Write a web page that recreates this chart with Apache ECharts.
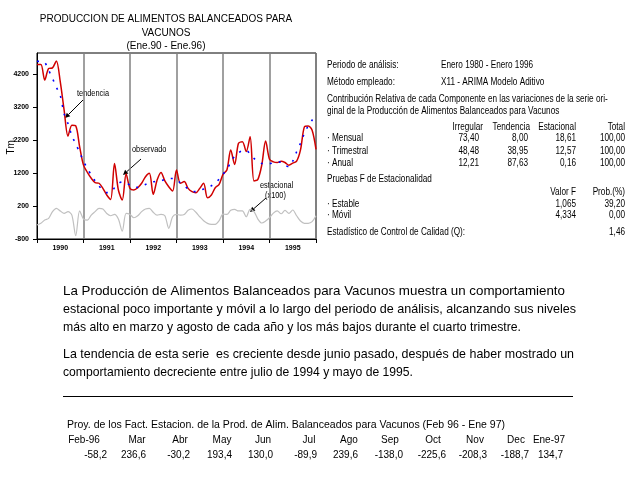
<!DOCTYPE html>
<html><head><meta charset="utf-8">
<script src="https://cdn.jsdelivr.net/npm/echarts@6/dist/echarts.min.js"></script>
<style>html,body{margin:0;padding:0;background:#fff}#c{width:640px;height:480px}</style>
</head><body><div id="c"></div>
<script>
// ---------------- DATA ----------------
const years = ['1990','1991','1992','1993','1994','1995'];
const yTickValues = [-800, 200, 1200, 2200, 3200, 4200];
// Monthly series Ene.90 - Ene.96 (73 months)
const observado = [4490,4490,4020,4370,4390,4600,3970,3110,2320,2650,2630,2000,1440,1220,1040,910,890,735,535,400,1490,685,380,1170,735,685,755,890,1090,1190,555,990,1220,960,785,655,1290,890,940,735,635,605,735,890,450,535,755,855,1160,1290,1900,1460,2100,2150,1850,2300,960,1010,1440,2170,1620,1540,1520,1560,1520,1440,1500,1560,1900,2600,2630,2500,1920];
const tendencia = [4590,4580,4550,4320,4070,3800,3550,3000,2700,2330,2080,1830,1560,1340,1140,960,805,685,605,615,755,885,935,905,835,785,765,805,855,905,935,955,965,1005,1035,1035,1010,900,820,715,655,635,665,715,765,815,885,1020,1160,1320,1520,1715,1815,1875,1885,1775,1645,1545,1490,1490,1490,1505,1525,1535,1440,1390,1560,1845,2100,2400,2635,2805,2905];
const estacional = [-375,-325,-225,-175,30,130,50,-25,30,-75,-700,50,-195,-225,-75,30,130,110,-25,-95,-55,-195,-560,-25,-55,-155,-95,30,110,130,10,-75,-55,-95,-475,-125,-55,-75,-55,70,110,10,-125,-245,-325,-355,-355,-245,-45,-55,70,100,50,50,-125,100,30,-195,-315,-255,-155,-15,50,-35,70,-25,80,-95,-255,-325,-325,-275,-95];

const infoLabels = ['Periodo de análisis:', 'Método empleado:'];
const infoValues = ['Enero 1980 - Enero 1996', 'X11 - ARIMA Modelo Aditivo'];
const contribText = ['Contribución Relativa de cada Componente en las variaciones de la serie ori-',
                     'ginal de la Producción de Alimentos Balanceados para Vacunos'];
const contribHeaders = ['Irregular', 'Tendencia', 'Estacional', 'Total'];
const contribRows = ['· Mensual', '· Trimestral', '· Anual'];
const contribIrregular = [73.40, 48.48, 12.21];
const contribTendencia = [8.00, 38.95, 87.63];
const contribEstacional = [18.61, 12.57, 0.16];
const contribTotal = [100.00, 100.00, 100.00];
const fTitle = 'Pruebas F de Estacionalidad';
const fHeaders = ['Valor F', 'Prob.(%)'];
const fRows = ['· Estable', '· Móvil'];
const fValor = ['1,065', '4,334'];
const fProb = [39.20, 0.00];
const qLabel = 'Estadístico de Control de Calidad (Q):';
const qValue = 1.46;

const paragraph = [
  'La Producción de Alimentos Balanceados para Vacunos muestra un comportamiento',
  'estacional poco importante y móvil a lo largo del periodo de análisis, alcanzando sus niveles',
  'más alto en marzo y agosto de cada año y los más bajos durante el cuarto trimestre.',
  '',
  'La tendencia de esta serie  es creciente desde junio pasado, después de haber mostrado un',
  'comportamiento decreciente entre julio de 1994 y mayo de 1995.'
];
const projTitle = 'Proy. de los Fact. Estacion. de la Prod. de Alim. Balanceados para Vacunos (Feb 96 - Ene 97)';
const projMonths = ['Feb-96','Mar','Abr','May','Jun','Jul','Ago','Sep','Oct','Nov','Dec','Ene-97'];
const projValues = [-58.2, 236.6, -30.2, 193.4, 130.0, -89.9, 239.6, -138.0, -225.6, -208.3, -188.7, 134.7];

// ---------------- HELPERS ----------------
function fmt(v, d){ return v.toFixed(d).replace('.', ','); }
const measureCtx = document.createElement('canvas').getContext('2d');
function fontAvailable(f){
  const s = 'abcdefghijklmnopqrstuvwxyzABCDEFGHIJ0123456789';
  measureCtx.font = '40px monospace'; const a = measureCtx.measureText(s).width;
  measureCtx.font = '40px "' + f + '", monospace'; const b = measureCtx.measureText(s).width;
  return Math.abs(a - b) > 0.5;
}
const NARROW = fontAvailable('Liberation Sans Narrow');
const SANS = '"Liberation Sans", Arial, Helvetica, sans-serif';
function txt(x, y, text, size, align, opts){
  opts = opts || {};
  const narrow = opts.narrow;
  const font = (opts.bold ? 'bold ' : '') + size + 'px ' + ((narrow && NARROW) ? '"Liberation Sans Narrow"' : SANS);
  const el = { type: 'text', x: x, y: y, silent: true,
    style: { text: text, textAlign: align || 'left', textVerticalAlign: 'middle', fill: '#000', font: font } };
  let sx = 1;
  if (narrow && !NARROW) sx = 0.82;
  if (opts.width) { measureCtx.font = font; sx = opts.width / measureCtx.measureText(text).width; }
  if (sx !== 1) el.scaleX = sx;
  if (opts.rotation) el.rotation = opts.rotation;
  return el;
}
function arrow(x1, y1, x2, y2){
  const a = Math.atan2(y2 - y1, x2 - x1), L = 5, W = 2.5;
  const bx = x2 - L * Math.cos(a), by = y2 - L * Math.sin(a);
  const px = -Math.sin(a) * W, py = Math.cos(a) * W;
  return [
    { type: 'line', silent: true, shape: { x1: x1, y1: y1, x2: bx, y2: by }, style: { stroke: '#000', lineWidth: 1 } },
    { type: 'polygon', silent: true, shape: { points: [[x2, y2], [bx + px, by + py], [bx - px, by - py]] }, style: { fill: '#000' } }
  ];
}
const idx = (arr) => arr.map((v, i) => [i, v]);

// ---------------- GRAPHICS (text & annotations) ----------------
const g = [];
g.push(txt(166, 19, 'PRODUCCION DE ALIMENTOS BALANCEADOS PARA', 10, 'center'));
g.push(txt(166, 33, 'VACUNOS', 10, 'center'));
g.push(txt(166, 46, '(Ene.90 - Ene.96)', 10, 'center'));
g.push(txt(11, 146, 'Tm.', 10, 'center', { rotation: Math.PI / 2 }));
// annotations
g.push(txt(77, 94, 'tendencia', 9, 'left', { narrow: true }));
g.push(...arrow(83, 100, 65, 118));
g.push(txt(132, 150, 'observado', 9, 'left', { narrow: true }));
g.push(...arrow(141, 159, 123, 175));
g.push(txt(260, 186, 'estacional', 9, 'left', { narrow: true }));
g.push(txt(265, 196, '(x100)', 9, 'left', { narrow: true }));
g.push(...arrow(266, 198, 250, 212));

// right panel
const RX = 327, VX = 441;
const colR = [483, 530, 576, 625];
infoLabels.forEach((t, i) => { g.push(txt(RX, 65 + i * 17.5, t, 10, 'left', { narrow: true })); g.push(txt(VX, 65 + i * 17.5, infoValues[i], 10, 'left', { narrow: true })); });
contribText.forEach((t, i) => g.push(txt(RX, 99 + i * 12, t, 10, 'left', { narrow: true })));
contribHeaders.forEach((t, i) => g.push(txt(colR[i], 127.5, t, 10, 'right', { narrow: true })));
contribRows.forEach((t, i) => {
  const y = 138 + i * 12.8;
  g.push(txt(RX, y, t, 10, 'left', { narrow: true }));
  g.push(txt(colR[0] - 4, y, fmt(contribIrregular[i], 2), 10, 'right', { narrow: true }));
  g.push(txt(colR[1] - 2, y, fmt(contribTendencia[i], 2), 10, 'right', { narrow: true }));
  g.push(txt(colR[2], y, fmt(contribEstacional[i], 2), 10, 'right', { narrow: true }));
  g.push(txt(colR[3], y, fmt(contribTotal[i], 2), 10, 'right', { narrow: true }));
});
g.push(txt(RX, 179, fTitle, 10, 'left', { narrow: true }));
g.push(txt(576, 192, fHeaders[0], 10, 'right', { narrow: true }));
g.push(txt(625, 192, fHeaders[1], 10, 'right', { narrow: true }));
fRows.forEach((t, i) => {
  const y = 204 + i * 11.5;
  g.push(txt(RX, y, t, 10, 'left', { narrow: true }));
  g.push(txt(576, y, fValor[i], 10, 'right', { narrow: true }));
  g.push(txt(625, y, fmt(fProb[i], 2), 10, 'right', { narrow: true }));
});
g.push(txt(RX, 232, qLabel, 10, 'left', { narrow: true }));
g.push(txt(625, 232, fmt(qValue, 2), 10, 'right', { narrow: true }));

// paragraph (line widths matched to the reference layout)
const paraY = [291, 309, 327, 345, 354, 372];
const paraW = [502, 513, 458, 0, 511, 350];
paragraph.forEach((t, i) => { if (t) g.push(txt(63, paraY[i], t, 13.3, 'left', { width: paraW[i] })); });
g.push({ type: 'line', silent: true, shape: { x1: 63, y1: 396.5, x2: 573, y2: 396.5 }, style: { stroke: '#000', lineWidth: 1 } });

// projection table
const monthCX = [84, 137, 180, 222, 263, 309, 349, 390, 433, 475, 516, 549];
const valRX = [107, 146, 190, 232, 273, 317, 358, 403, 446, 487, 529, 563];
g.push(txt(67, 425, projTitle, 10, 'left', { width: 438 }));
projMonths.forEach((m, i) => g.push(txt(monthCX[i], 440, m, 10, 'center')));
projValues.forEach((v, i) => g.push(txt(valRX[i], 455, fmt(v, 1), 10, 'right')));

// ---------------- CHART ----------------
const chart = echarts.init(document.getElementById('c'), null, { renderer: 'canvas' });
chart.setOption({
  animation: false,
  backgroundColor: '#fff',
  grid: { left: 37, right: 324, top: 53, bottom: 241, show: true, borderColor: '#000', borderWidth: 1, backgroundColor: 'transparent', containLabel: false },
  xAxis: [
    { type: 'value', min: 0, max: 72, interval: 12,
      axisLine: { show: true, onZero: false, lineStyle: { color: '#000', width: 1 } },
      axisTick: { show: true, inside: false, length: 4, lineStyle: { color: '#000' } },
      axisLabel: { show: false },
      splitLine: { show: true, lineStyle: { color: '#808080', width: 1.5 } } },
    { type: 'category', position: 'bottom', data: years, boundaryGap: true,
      axisLine: { show: false, onZero: false }, axisTick: { show: false }, splitLine: { show: false },
      axisLabel: { show: true, margin: 6, fontSize: 7, fontWeight: 'bold', color: '#000', fontFamily: SANS } }
  ],
  yAxis: { type: 'value', min: -800, max: 4840,
    axisLine: { show: true, onZero: false, lineStyle: { color: '#000', width: 1 } },
    axisTick: { show: true, length: 4, lineStyle: { color: '#000' }, customValues: yTickValues },
    axisLabel: { show: true, margin: 8, fontSize: 7, fontWeight: 'bold', color: '#000', fontFamily: SANS,
      customValues: yTickValues, formatter: (v) => String(v) },
    splitLine: { show: false } },
  series: [
    { name: 'estacional', type: 'line', xAxisIndex: 0, data: idx(estacional), showSymbol: false,
      lineStyle: { color: '#c0c0c0', width: 1.2 }, smooth: 0.3, z: 2 },
    { name: 'observado', type: 'line', xAxisIndex: 0, data: idx(observado), showSymbol: false,
      lineStyle: { color: '#d00000', width: 1.5 }, smooth: 0.3, z: 3 },
    { name: 'tendencia', type: 'line', xAxisIndex: 0, data: idx(tendencia), showSymbol: false,
      lineStyle: { color: '#0000ff', width: 1.6, type: [2, 7] }, smooth: 0.3, z: 4 }
  ],
  graphic: { elements: g }
});
</script></body></html>
